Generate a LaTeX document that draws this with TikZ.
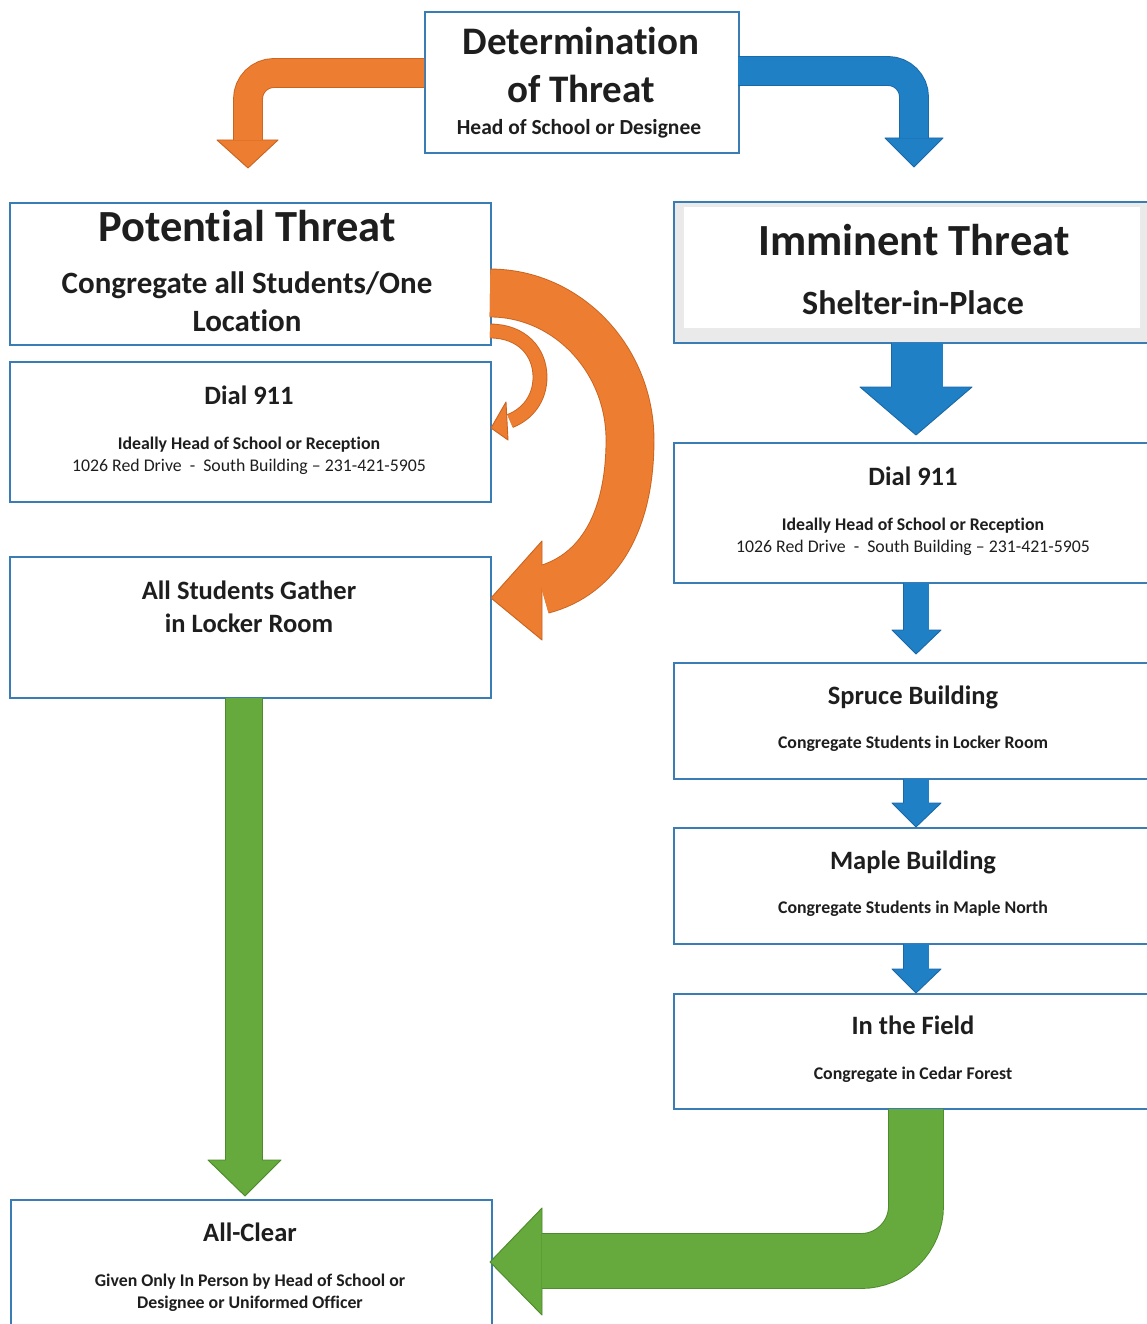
\documentclass[tikz,border=0pt]{standalone}
\usepackage{fontspec}
\setmainfont{Carlito}[Ligatures={NoCommon,TeX}]
\definecolor{boxblue}{HTML}{3A7DB5}
\definecolor{ofill}{HTML}{ED7D31}
\definecolor{oedge}{HTML}{C9641F}
\definecolor{bfill}{HTML}{1F80C6}
\definecolor{bedge}{HTML}{1A68A6}
\definecolor{gfill}{HTML}{66A93C}
\definecolor{gedge}{HTML}{4C8A2B}
\definecolor{txt}{HTML}{1E1E1E}
\definecolor{shade}{HTML}{EAEAEA}
\newcommand\bandarrow[5]{%
  \draw[#2, line width=#3+1.8] #4;
  \filldraw[fill=#1, draw=#2, line width=0.9, line join=round] #5 -- cycle;
  \draw[#1, line width=#3] #4;
}
\newcommand\fsz[1]{\fontsize{#1}{#1}\selectfont}
\begin{document}
\begin{tikzpicture}[x=1pt,y=-1pt,
  box/.style={draw=boxblue, line width=2, fill=white, inner sep=0, anchor=north west},
  lbl/.style={anchor=base, inner sep=0, text=txt},
  big/.style={lbl, font=\fsz{44.5}\bfseries},
  mid/.style={lbl, font=\fsz{26.5}\bfseries},
  sub/.style={lbl, font=\fsz{17.8}\bfseries},
  subr/.style={lbl, font=\fsz{17.8}},
]
\useasboundingbox (0,0) rectangle (1147,1324);
\clip (0,0) rectangle (1147,1324);
\fill[white] (0,0) rectangle (1147,1324);

% boxes
\node[box, minimum width=314, minimum height=141] (det) at (424,11) {};
\node[box, minimum width=481, minimum height=142] (pot) at (9,202) {};
\node[box, minimum width=481, minimum height=140] (dialL) at (9,361) {};
\node[box, minimum width=481, minimum height=141] (gather) at (9,556) {};
\node[box, minimum width=481, minimum height=150] (clear) at (10,1199) {};
\node[box, fill=shade, minimum width=500, minimum height=141] (imm) at (673,201) {};
\fill[white] (684,207) rectangle (1140,328);
\node[box, minimum width=500, minimum height=140] (dialR) at (673,442) {};
\node[box, minimum width=500, minimum height=116] (spruce) at (673,662) {};
\node[box, minimum width=500, minimum height=116] (maple) at (673,827) {};
\node[box, minimum width=500, minimum height=115] (field) at (673,993) {};

% texts
\node[lbl, font=\fsz{39}\bfseries] (t1) at (581,55) {Determination};
\node[lbl, font=\fsz{39}\bfseries] (t2) at (581,103) {of Threat};
\node[lbl, font=\fsz{21.5}\bfseries] (t3) at (579,135) {Head of School or Designee};

\node[big] (p1) at (247,242) {Potential Threat};
\node[lbl, font=\fsz{31}\bfseries] (p2) at (247,293) {Congregate all Students/One};
\node[lbl, font=\fsz{31}\bfseries] (p3) at (247,331) {Location};

\node[mid] (d1) at (249,404) {Dial 911};
\node[sub] (d2) at (249,449) {Ideally Head of School or Reception};
\node[subr] (d3) at (249,471) {1026 Red Drive\ \ -\ \ South Building -- 231-421-5905};

\node[mid] (g1) at (249,599) {All Students Gather};
\node[mid] (g2) at (249,632) {in Locker Room};

\node[big] (i1) at (914,255) {Imminent Threat};
\node[lbl, font=\fsz{34}\bfseries] (i2) at (913,314) {Shelter-in-Place};

\node[mid] (r1) at (913,485) {Dial 911};
\node[sub] (r2) at (913,530) {Ideally Head of School or Reception};
\node[subr] (r3) at (913,552) {1026 Red Drive\ \ -\ \ South Building -- 231-421-5905};

\node[mid] (s1) at (913,704) {Spruce Building};
\node[sub] (s2) at (913,748) {Congregate Students in Locker Room};

\node[mid] (m1) at (913,869) {Maple Building};
\node[sub] (m2) at (913,913) {Congregate Students in Maple North};

\node[mid] (f1) at (913,1034) {In the Field};
\node[sub] (f2) at (913,1079) {Congregate in Cedar Forest};

\node[mid] (c1) at (250,1241) {All-Clear};
\node[sub] (c2) at (250,1286) {Given Only In Person by Head of School or};
\node[sub] (c3) at (250,1308) {Designee or Uniformed Officer};

% arrows
\bandarrow{ofill}{oedge}{28}{(424,73) [rounded corners=26] -- (248,73) -- (248,140)}{(217,140) -- (248,168) -- (278,140)}
\bandarrow{bfill}{bedge}{28}{(738,71) [rounded corners=26] -- (914,71) -- (914,138)}{(885,138) -- (914,167) -- (943,138)}

\bandarrow{ofill}{oedge}{47}{(490,293) .. controls (567,293) and (630,359) .. (630,440) .. controls (630,520) and (600,575) .. (542,590)}{(542,541) -- (491,598) -- (542,640)}
\bandarrow{ofill}{oedge}{13}{(490,331) .. controls (522,331) and (540,352) .. (540,377) .. controls (540,398) and (528,414) .. (510,421)}{(506,402) -- (491,428) -- (508,440)}

\bandarrow{bfill}{bedge}{51}{(917,343) -- (917,388)}{(860,387) -- (916,435) -- (972,387)}
\bandarrow{bfill}{bedge}{25}{(916,583) -- (916,631)}{(892,630) -- (916,654) -- (941,630)}
\bandarrow{bfill}{bedge}{25}{(916,779) -- (916,804)}{(892,803) -- (916,827) -- (941,803)}
\bandarrow{bfill}{bedge}{25}{(916,944) -- (916,970)}{(892,969) -- (916,993) -- (941,969)}

\bandarrow{gfill}{gedge}{36}{(244,698) -- (244,1161)}{(208,1160) -- (245,1196) -- (281,1160)}
\bandarrow{gfill}{gedge}{54}{(916,1109) [rounded corners=55] -- (916,1261) -- (542,1261)}{(542,1208) -- (490,1262) -- (542,1315)}
\end{tikzpicture}
\end{document}
